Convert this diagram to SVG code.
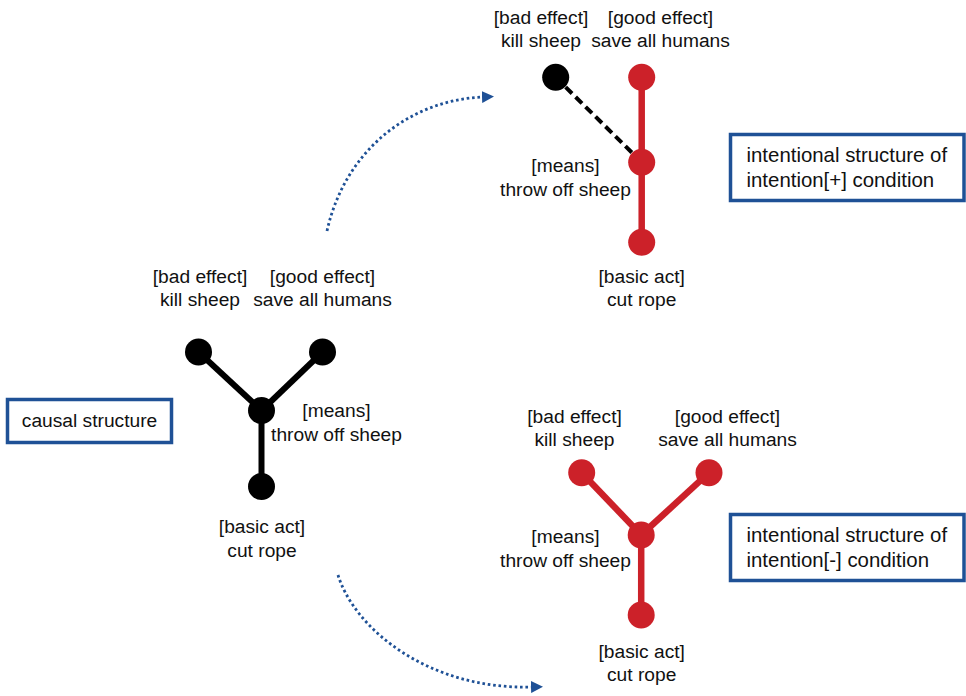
<svg xmlns="http://www.w3.org/2000/svg" width="966" height="696" viewBox="0 0 966 696">
  <style>
    text { font-family: "Liberation Sans", Arial, sans-serif; fill: #111; }
    .lbl { font-size: 19.2px; text-anchor: middle; }
    .box-text { font-size: 20.4px; }
    .box { fill: #fff; stroke: #1f5196; stroke-width: 3.5; }
    .edge-k { stroke: #000; stroke-width: 6; fill: none; }
    .edge-r { stroke: #cc2129; stroke-width: 6.5; fill: none; }
    .edge-dash { stroke: #000; stroke-width: 4; stroke-dasharray: 9 5; fill: none; }
    .dot-k { fill: #000; }
    .dot-r { fill: #cc2129; }
    .flow { stroke: #1f5196; stroke-width: 2.8; stroke-dasharray: 2.6 2.8; fill: none; marker-end: url(#tri); }
  </style>
  <defs>
    <marker id="tri" viewBox="0 0 12 12" refX="1" refY="6" markerWidth="12" markerHeight="12" markerUnits="userSpaceOnUse" orient="auto">
      <path d="M0,0 L12,6 L0,12 Z" fill="#1f5196"/>
    </marker>
  </defs>

  <!-- connectors -->
  <g id="connectors">
    <!-- causal structure -->
    <line class="edge-k" x1="198.5" y1="352" x2="261.5" y2="410.5"/>
    <line class="edge-k" x1="322.5" y1="352" x2="261.5" y2="410.5"/>
    <line class="edge-k" x1="261.5" y1="410.5" x2="261.5" y2="486.5"/>
    <!-- intention[+] -->
    <line class="edge-dash" x1="555.7" y1="77.3" x2="641.7" y2="162.3"/>
    <line class="edge-r" x1="641.7" y1="77.3" x2="641.7" y2="242.3"/>
    <!-- intention[-] -->
    <line class="edge-r" x1="581.7" y1="472.7" x2="641.2" y2="535"/>
    <line class="edge-r" x1="709" y1="472.7" x2="641.2" y2="535"/>
    <line class="edge-r" x1="641.2" y1="535" x2="641.2" y2="615"/>
    <!-- transitions -->
    <path class="flow" d="M327,231 C345,150 410,100 483,97"/>
    <path class="flow" d="M338,575 C355,630 430,690 532,687"/>
  </g>

  <!-- causal structure tree -->
  <g id="causal-bad">
    <circle class="dot-k" cx="198.5" cy="352" r="13.5"/>
    <text class="lbl" x="200" y="283">[bad effect]</text>
    <text class="lbl" x="200" y="306">kill sheep</text>
  </g>
  <g id="causal-good">
    <circle class="dot-k" cx="322.5" cy="352" r="13.5"/>
    <text class="lbl" x="322.5" y="283">[good effect]</text>
    <text class="lbl" x="322.5" y="306">save all humans</text>
  </g>
  <g id="causal-means">
    <circle class="dot-k" cx="261.5" cy="410.5" r="13.5"/>
    <text class="lbl" x="336.5" y="417">[means]</text>
    <text class="lbl" x="336.5" y="441">throw off sheep</text>
  </g>
  <g id="causal-basic">
    <circle class="dot-k" cx="261.5" cy="486.5" r="13.5"/>
    <text class="lbl" x="262" y="533">[basic act]</text>
    <text class="lbl" x="262" y="557">cut rope</text>
  </g>
  <g id="causal-label">
    <rect class="box" x="7.5" y="399.5" width="164" height="43"/>
    <text class="lbl" x="89.5" y="427">causal structure</text>
  </g>

  <!-- intention[+] tree -->
  <g id="plus-bad">
    <circle class="dot-k" cx="555.7" cy="77.3" r="13.5"/>
    <text class="lbl" x="541" y="24">[bad effect]</text>
    <text class="lbl" x="541" y="47">kill sheep</text>
  </g>
  <g id="plus-good">
    <circle class="dot-r" cx="641.7" cy="77.3" r="13.5"/>
    <text class="lbl" x="660.5" y="24">[good effect]</text>
    <text class="lbl" x="660.5" y="47">save all humans</text>
  </g>
  <g id="plus-means">
    <circle class="dot-r" cx="641.7" cy="162.3" r="13.5"/>
    <text class="lbl" x="565.5" y="172">[means]</text>
    <text class="lbl" x="565.5" y="196">throw off sheep</text>
  </g>
  <g id="plus-basic">
    <circle class="dot-r" cx="641.7" cy="242.3" r="13.5"/>
    <text class="lbl" x="641.7" y="283">[basic act]</text>
    <text class="lbl" x="641.7" y="306">cut rope</text>
  </g>
  <g id="plus-label">
    <rect class="box" x="730.5" y="134.5" width="233.5" height="66"/>
    <text class="box-text" x="746.5" y="162">intentional structure of</text>
    <text class="box-text" x="746.5" y="187">intention[+] condition</text>
  </g>

  <!-- intention[-] tree -->
  <g id="minus-bad">
    <circle class="dot-r" cx="581.7" cy="472.7" r="13.5"/>
    <text class="lbl" x="574.5" y="423">[bad effect]</text>
    <text class="lbl" x="574.5" y="446">kill sheep</text>
  </g>
  <g id="minus-good">
    <circle class="dot-r" cx="709" cy="472.7" r="13.5"/>
    <text class="lbl" x="727.5" y="423">[good effect]</text>
    <text class="lbl" x="727.5" y="446">save all humans</text>
  </g>
  <g id="minus-means">
    <circle class="dot-r" cx="641.2" cy="535" r="13.5"/>
    <text class="lbl" x="565.5" y="543">[means]</text>
    <text class="lbl" x="565.5" y="567">throw off sheep</text>
  </g>
  <g id="minus-basic">
    <circle class="dot-r" cx="641.2" cy="615" r="13.5"/>
    <text class="lbl" x="641.7" y="658">[basic act]</text>
    <text class="lbl" x="641.7" y="681">cut rope</text>
  </g>
  <g id="minus-label">
    <rect class="box" x="730.5" y="514.5" width="233.5" height="66"/>
    <text class="box-text" x="746.5" y="542">intentional structure of</text>
    <text class="box-text" x="746.5" y="567">intention[-] condition</text>
  </g>
</svg>
